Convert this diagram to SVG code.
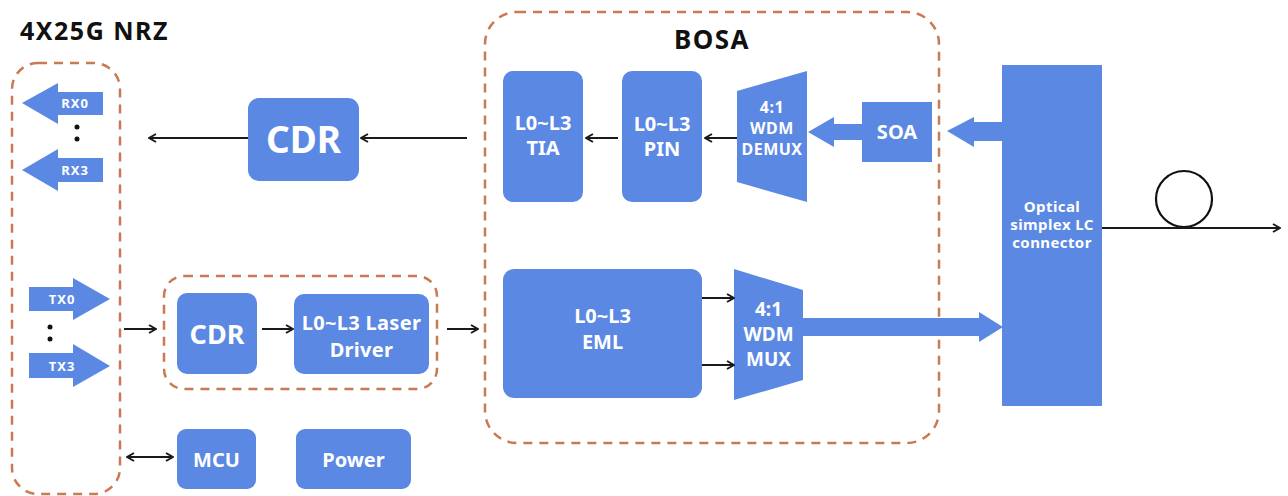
<svg xmlns="http://www.w3.org/2000/svg" width="1288" height="496" viewBox="0 0 1288 496">
<defs>
<style>
.box{fill:#5b88e3}
.dash{fill:none;stroke:#c97a52;stroke-width:2.5;stroke-dasharray:9 7}
.t{font-family:"Noto Sans","Liberation Sans",sans-serif;font-weight:bold;fill:#fff;text-anchor:middle}
.h{font-family:"Noto Sans","Liberation Sans",sans-serif;font-weight:bold;fill:#111}
.ln{fill:none;stroke:#1a1a1a;stroke-width:2}
</style>
<marker id="ah" viewBox="0 0 10 10" refX="9" refY="5" markerWidth="10" markerHeight="10" markerUnits="userSpaceOnUse" orient="auto-start-reverse">
<path d="M2,1 L9,5 L2,9" fill="none" stroke="#1a1a1a" stroke-width="2"/>
</marker>
</defs>
<rect width="1288" height="496" fill="#fff"/>
<text class="h" x="20" y="40" font-size="25" letter-spacing="1.5">4X25G NRZ</text>

<g id="groups">
<rect class="dash" x="12" y="63" width="108" height="431" rx="26"/>
<rect class="dash" x="164" y="276" width="273" height="113" rx="20"/>
<rect class="dash" x="485" y="12" width="454" height="431" rx="32"/>
<text class="h" x="712" y="49" font-size="26" letter-spacing="1.5" text-anchor="middle">BOSA</text>
</g>

<g id="rx0">
<path class="box" d="M22,103 L58,83 L58,92 L103,92 L103,115 L58,115 L58,124 Z"/>
<text class="t" x="75" y="108" font-size="13" letter-spacing="1">RX0</text>
</g>
<g id="rx3">
<path class="box" d="M22,170 L58,149 L58,158 L103,158 L103,182 L58,182 L58,191 Z"/>
<text class="t" x="75" y="175" font-size="13" letter-spacing="1">RX3</text>
</g>
<g id="rxdots" fill="#111"><circle cx="77" cy="127" r="2.5"/><circle cx="77" cy="139" r="2.5"/></g>

<g id="tx0">
<path class="box" d="M29,287 L73,287 L73,278 L110,299 L73,320 L73,311 L29,311 Z"/>
<text class="t" x="62" y="304" font-size="13" letter-spacing="1">TX0</text>
</g>
<g id="tx3">
<path class="box" d="M29,353 L73,353 L73,344 L110,366 L73,387 L73,378 L29,378 Z"/>
<text class="t" x="62" y="371" font-size="13" letter-spacing="1">TX3</text>
</g>
<g id="txdots" fill="#111"><circle cx="50" cy="327" r="2.5"/><circle cx="50" cy="339" r="2.5"/></g>

<g id="cdr-rx">
<rect class="box" x="248" y="98" width="111" height="83" rx="11"/>
<text class="t" x="303.5" y="153" font-size="37">CDR</text>
</g>
<g id="cdr-tx">
<rect class="box" x="177" y="293" width="80" height="81" rx="10"/>
<text class="t" x="217" y="344" font-size="27">CDR</text>
</g>
<g id="laser-driver">
<rect class="box" x="294" y="294" width="135" height="80" rx="10"/>
<text class="t" x="361.5" y="330" font-size="20" letter-spacing="0.3">L0~L3 Laser</text>
<text class="t" x="361.5" y="357" font-size="20" letter-spacing="0.3">Driver</text>
</g>
<g id="mcu">
<rect class="box" x="177" y="429" width="79" height="60" rx="9"/>
<text class="t" x="216.5" y="467" font-size="20">MCU</text>
</g>
<g id="power">
<rect class="box" x="296" y="429" width="115" height="60" rx="9"/>
<text class="t" x="353.5" y="467" font-size="20">Power</text>
</g>

<g id="tia">
<rect class="box" x="503" y="71" width="80" height="131" rx="10"/>
<text class="t" x="543" y="130" font-size="20">L0~L3</text>
<text class="t" x="543" y="155" font-size="20">TIA</text>
</g>
<g id="pin">
<rect class="box" x="622" y="71" width="80" height="131" rx="10"/>
<text class="t" x="662" y="131" font-size="20">L0~L3</text>
<text class="t" x="662" y="156" font-size="20">PIN</text>
</g>
<g id="demux">
<path class="box" d="M737,91 L807,71 L807,202 L737,182 Z"/>
<text class="t" x="772" y="113" font-size="16" letter-spacing="0.5">4:1</text>
<text class="t" x="772" y="134" font-size="16" letter-spacing="0.5">WDM</text>
<text class="t" x="772" y="155" font-size="16" letter-spacing="0.5">DEMUX</text>
</g>
<g id="soa">
<rect class="box" x="862" y="102" width="70" height="60"/>
<text class="t" x="897" y="139" font-size="20">SOA</text>
</g>
<g id="eml">
<rect class="box" x="503" y="269" width="199" height="129" rx="11"/>
<text class="t" x="602.5" y="323" font-size="20">L0~L3</text>
<text class="t" x="602.5" y="349" font-size="20">EML</text>
</g>
<g id="mux">
<path class="box" d="M734,269 L803,290 L803,380 L734,400 Z"/>
<text class="t" x="768.5" y="316" font-size="19">4:1</text>
<text class="t" x="768.5" y="341" font-size="19">WDM</text>
<text class="t" x="768.5" y="366" font-size="19">MUX</text>
</g>
<g id="connector">
<rect class="box" x="1002" y="65" width="100" height="341"/>
<text class="t" x="1052" y="212" font-size="15" letter-spacing="0.4">Optical</text>
<text class="t" x="1052" y="230" font-size="15" letter-spacing="0.4">simplex LC</text>
<text class="t" x="1052" y="248" font-size="15" letter-spacing="0.4">connector</text>
</g>
<g id="fiber">
<circle cx="1184" cy="199" r="28" fill="none" stroke="#111" stroke-width="2.2"/>
</g>

<g id="connectors">
<line class="ln" x1="248" y1="138" x2="149" y2="138" marker-end="url(#ah)"/>
<line class="ln" x1="467" y1="138" x2="361" y2="138" marker-end="url(#ah)"/>
<line class="ln" x1="618" y1="138" x2="586" y2="138" marker-end="url(#ah)"/>
<line class="ln" x1="737" y1="138" x2="705" y2="138" marker-end="url(#ah)"/>
<line class="ln" x1="124" y1="329" x2="156" y2="329" marker-end="url(#ah)"/>
<line class="ln" x1="262" y1="329" x2="293" y2="329" marker-end="url(#ah)"/>
<line class="ln" x1="447" y1="329" x2="478" y2="329" marker-end="url(#ah)"/>
<line class="ln" x1="127" y1="457" x2="173" y2="457" marker-start="url(#ah)" marker-end="url(#ah)"/>
<line class="ln" x1="702" y1="298" x2="734" y2="298" marker-end="url(#ah)"/>
<line class="ln" x1="702" y1="365" x2="734" y2="365" marker-end="url(#ah)"/>
<line class="ln" x1="1102" y1="228" x2="1280" y2="228" marker-end="url(#ah)"/>
<path class="box" d="M808,132 L834,117 L834,124 L862,124 L862,140 L834,140 L834,147 Z"/>
<path class="box" d="M947,131 L974,117 L974,122 L1002,122 L1002,141 L974,141 L974,147 Z"/>
<path class="box" d="M803,318 L979,318 L979,312 L1003,327 L979,342 L979,336 L803,336 Z"/>
</g>
</svg>
